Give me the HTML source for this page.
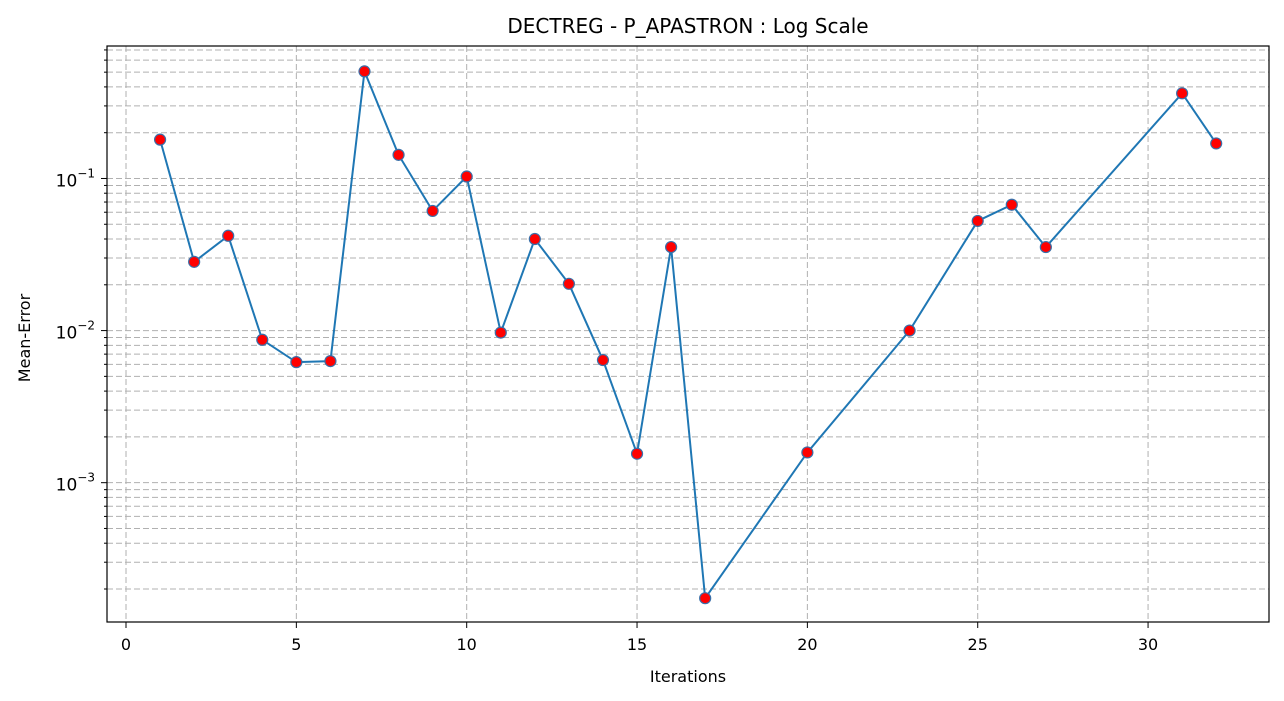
<!DOCTYPE html>
<html><head><meta charset="utf-8"><style>
body{margin:0;background:#fff;}
svg{display:block;font-family:"DejaVu Sans","Liberation Sans",sans-serif;}
</style></head><body>
<svg id="chart" width="1284" height="701" xmlns="http://www.w3.org/2000/svg">
<text x="688" y="33" font-size="20" text-anchor="middle">DECTREG - P_APASTRON : Log Scale</text>
<text x="688" y="682" font-size="16" text-anchor="middle">Iterations</text>
<text x="30" y="338" font-size="16" text-anchor="middle" transform="rotate(-90 30 338)">Mean-Error</text>
<g id="grid"></g><g id="series"></g><g id="axes"></g>
</svg>
<script>
const iterations=[1,2,3,4,5,6,7,8,9,10,11,12,13,14,15,16,17,20,23,25,26,27,31,32];
const meanError=[0.180,0.0283,0.0420,0.0087,0.0062,0.0063,0.506,0.143,0.0612,0.103,0.0097,0.0400,0.0203,0.0064,0.00155,0.0354,0.000174,0.00158,0.0100,0.0526,0.0672,0.0354,0.363,0.170];
const xTicks=[0,5,10,15,20,25,30];
const yDecades=[-3,-2,-1];

const L=107,R=1269,T=46,B=622;
const xMin=-0.558,xMax=33.55,lMin=-3.916,lMax=-0.129;
const X=v=>L+(v-xMin)/(xMax-xMin)*(R-L);
const Y=v=>B-(Math.log10(v)-lMin)/(lMax-lMin)*(B-T);
const NS='http://www.w3.org/2000/svg';
function mk(tag,attrs,parent){const e=document.createElementNS(NS,tag);for(const k in attrs)e.setAttribute(k,attrs[k]);parent.appendChild(e);return e;}
const grid=document.getElementById('grid'),axes=document.getElementById('axes'),series=document.getElementById('series');
const gs={stroke:'#b0b0b0','stroke-width':1,'stroke-dasharray':'6,3'};
xTicks.forEach(t=>{const x=X(t);
 const g=mk('line',Object.assign({x1:x,x2:x,y1:T,y2:B},gs),grid);
 
 
 const tk=mk('line',{x1:x,x2:x,y1:B,y2:B+6,stroke:'#000','stroke-width':1},axes);
 
 
 const lb=mk('text',{x:x,y:B+28,'font-size':16,'text-anchor':'middle'},axes);lb.textContent=t;
 
 
});
for(let d=-5;d<=0;d++){for(let m=1;m<=9;m++){const v=m*Math.pow(10,d);const lv=Math.log10(v);
 if(lv<lMin||lv>lMax)continue;const y=Y(v);
 const g=mk('line',Object.assign({x1:L,x2:R,y1:y,y2:y},gs),grid);
 
 
 const tk=mk('line',{x1:L,x2:L-(m===1?6:3),y1:y,y2:y,stroke:'#000','stroke-width':1},axes);
 
 
}}
yDecades.forEach(d=>{const y=Y(Math.pow(10,d));
 const lb=mk('text',{x:L-12,y:y+8,'font-size':17,'text-anchor':'end'},axes);
 
 
 lb.innerHTML='10<tspan dy="-9" font-size="12">−'+(-d)+'</tspan>';
});
const fr=mk('rect',{x:L,y:T,width:R-L,height:B-T,fill:'none',stroke:'#000','stroke-width':1.2},axes);


const pts=iterations.map((t,i)=>X(t)+','+Y(meanError[i])).join(' ');
const pl=mk('polyline',{points:pts,fill:'none',stroke:'#1f77b4','stroke-width':2},series);


iterations.forEach((t,i)=>{
 const c=mk('circle',{cx:X(t),cy:Y(meanError[i]),r:5.5,fill:'#ff0000',stroke:'#3a6fa8','stroke-width':1.2},series);
 
 
});
</script>
</body></html>
